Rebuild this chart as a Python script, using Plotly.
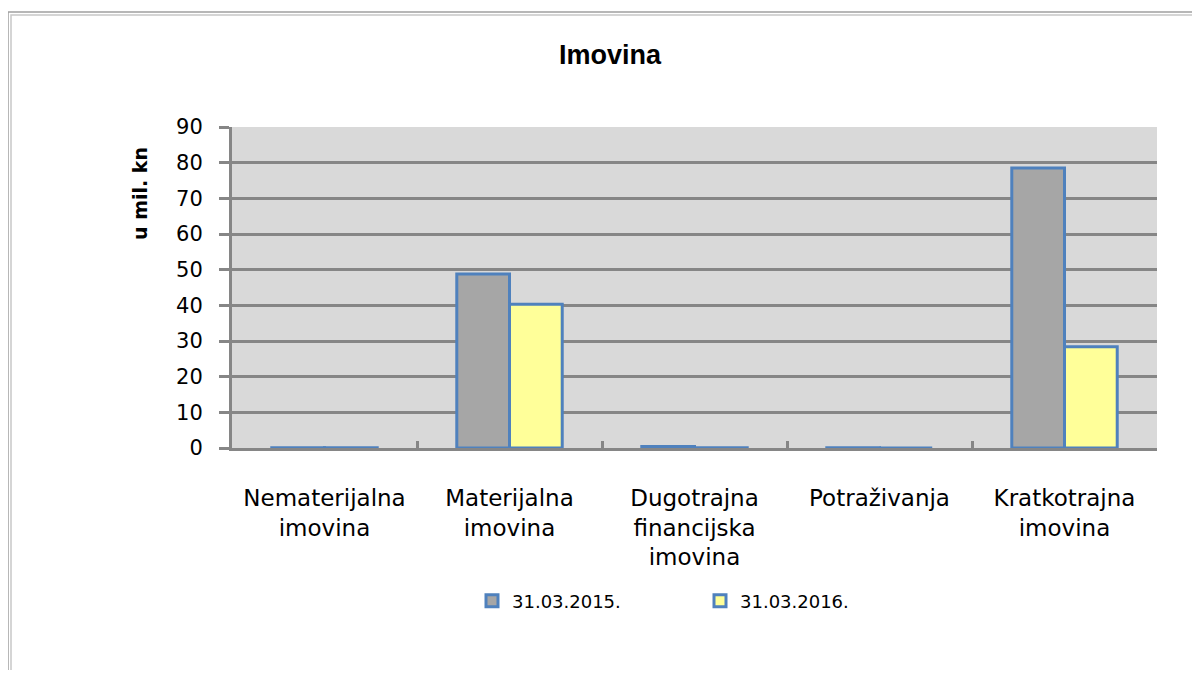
import plotly.graph_objects as go

categories = ['Nematerijalna<br>imovina', 'Materijalna<br>imovina',
              'Dugotrajna<br>financijska<br>imovina', 'Potraživanja',
              'Kratkotrajna<br>imovina']
values_2015 = [0.1, 48.8, 0.4, 0.1, 78.5]
values_2016 = [0.1, 40.3, 0.1, 0.0, 28.4]
series_names = ['31.03.2015.', '31.03.2016.']

# page body adds an 8px offset, so work in figure pixels = screen - 8
OFF = 8
W, H = 1184, 662
left, right, top, bottom = 232 - OFF, 1157 - OFF, 127 - OFF, 448 - OFF
pw, ph = right - left, bottom - top

def px_x(x):
    return (x - OFF - left) / pw

def px_y(y):
    return (bottom - (y - OFF)) / ph

FONT = 'DejaVu Sans, Verdana, sans-serif'

fig = go.Figure()
fig.add_trace(go.Bar(
    x=categories, y=values_2015, name=series_names[0],
    marker=dict(color='#A6A6A6', line=dict(color='#4F81BD', width=3))
))
fig.add_trace(go.Bar(
    x=categories, y=values_2016, name=series_names[1],
    marker=dict(color='#FFFF99', line=dict(color='#4F81BD', width=3))
))

# outer double border
for off, col in [(0, '#A0A0A0'), (3, '#C8C8C8')]:
    fig.add_shape(type='rect', xref='paper', yref='paper',
                  x0=px_x(8 + off), x1=px_x(1260),
                  y0=px_y(760), y1=px_y(12 + off),
                  line=dict(color=col, width=1.5), layer='below')

# y axis title sits near the top of the axis
fig.add_annotation(text='<b>u mil. kn</b>', xref='paper', yref='paper',
                   x=px_x(140), y=px_y(194), xanchor='center', yanchor='middle',
                   textangle=-90, showarrow=False,
                   font=dict(family=FONT, size=19, color='#000000'))

fig.update_xaxes(
    showline=True, linecolor='#868686', linewidth=3,
    ticks='inside', tickson='boundaries', ticklen=7, tickwidth=3, tickcolor='#868686',
    tickfont=dict(family=FONT, size=23, color='#000000'),
    ticklabelstandoff=27,
    showgrid=False
)
fig.update_yaxes(
    range=[0, 90], dtick=10,
    showline=True, linecolor='#868686', linewidth=3,
    ticks='outside', ticklen=10, tickwidth=3, tickcolor='#868686',
    showgrid=True, gridcolor='#868686', gridwidth=3,
    zeroline=False,
    tickfont=dict(family=FONT, size=21, color='#000000'),
    ticklabelstandoff=12,
)
fig.update_layout(
    width=W, height=H,
    margin=dict(l=left, r=W - right, t=top, b=H - bottom),
    plot_bgcolor='#D9D9D9', paper_bgcolor='#FFFFFF',
    bargap=0.43, bargroupgap=0,
    title=dict(text='<b>Imovina</b>', xref='container', x=(610 - OFF) / W, xanchor='center',
               yref='container', y=1 - (55 - OFF) / H, yanchor='middle',
               font=dict(family='Liberation Sans, Arial, sans-serif', size=27, color='#000000')),
    showlegend=True,
    legend=dict(orientation='h', x=px_x(472), xanchor='left', y=px_y(601), yanchor='middle',
                entrywidth=183, entrywidthmode='pixels', traceorder='normal',
                font=dict(family=FONT, size=18, color='#000000'),
                bgcolor='rgba(0,0,0,0)'),
)
fig.write_html('out.html')
